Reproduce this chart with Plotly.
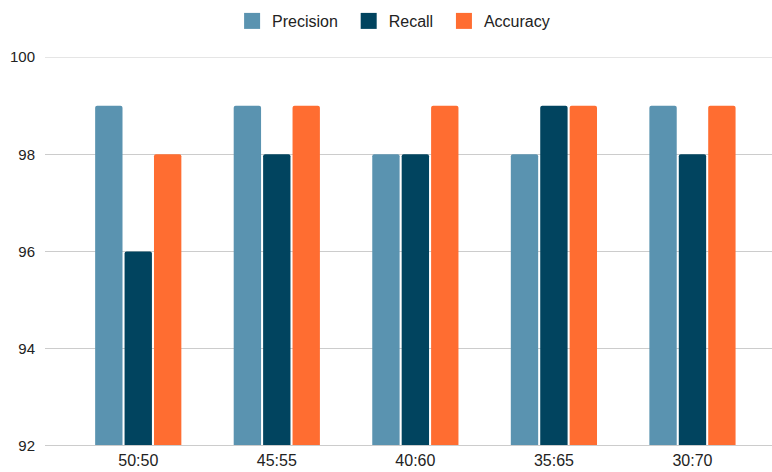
import plotly.graph_objects as go

categories = ["50:50", "45:55", "40:60", "35:65", "30:70"]
precision = [99, 99, 98, 98, 99]
recall = [96, 98, 98, 99, 98]
accuracy = [98, 99, 99, 99, 99]

series = [
    ("Precision", precision, "#5a93b0"),
    ("Recall", recall, "#01445f"),
    ("Accuracy", accuracy, "#ff6d31"),
]

fig = go.Figure()
for name, vals, color in series:
    fig.add_trace(go.Bar(
        x=categories, y=vals, name=name,
        marker=dict(color=color, line=dict(width=0), cornerradius=2),
        showlegend=False, hoverinfo="x+y+name",
    ))
# legend entries with larger square symbols
for i, (name, vals, color) in enumerate(series):
    label = name + ("\u00a0\u200a" if i < len(series) - 1 else "")
    fig.add_trace(go.Scatter(
        x=[None], y=[None], mode="markers", name=label,
        marker=dict(symbol="square", size=16, color=color),
        showlegend=True,
    ))

W, H = 772, 472
L, R, T, B = 45, 0, 57, 26

fig.update_layout(
    width=W, height=H,
    margin=dict(l=L, r=R, t=T, b=B, pad=0),
    paper_bgcolor="white", plot_bgcolor="white",
    font=dict(family="Liberation Sans, Arial, sans-serif", size=15, color="#222222"),
    barmode="group", bargap=0.363, bargroupgap=0.07,
    legend=dict(
        orientation="h", x=0.4795, xanchor="center",
        y=(446 - 21) / 389, yanchor="middle",
        font=dict(size=16, color="#222222"),
        bgcolor="rgba(0,0,0,0)", itemclick=False,
    ),
    xaxis=dict(
        type="category", range=[-0.673, 4.574],
        showgrid=False, showline=False, zeroline=False,
        ticks="", tickfont=dict(size=16, color="#222222"),
        ticklabelstandoff=3,
        fixedrange=True,
    ),
    yaxis=dict(
        range=[92, 100], tickvals=[92, 94, 96, 98, 100],
        showgrid=True, gridcolor="#cccccc", gridwidth=1,
        zeroline=False, showline=False, ticks="",
        ticklabelstandoff=9,
        tickfont=dict(size=15, color="#222222"),
        fixedrange=True,
    ),
    shapes=[
        dict(type="line", xref="paper", yref="y", x0=0, x1=1, y0=92, y1=92,
             line=dict(color="#cccccc", width=2), layer="above"),
        dict(type="line", xref="paper", yref="y", x0=0, x1=1, y0=100, y1=100,
             line=dict(color="#cccccc", width=1), layer="below"),
    ],
)

fig.write_html("out.html")
